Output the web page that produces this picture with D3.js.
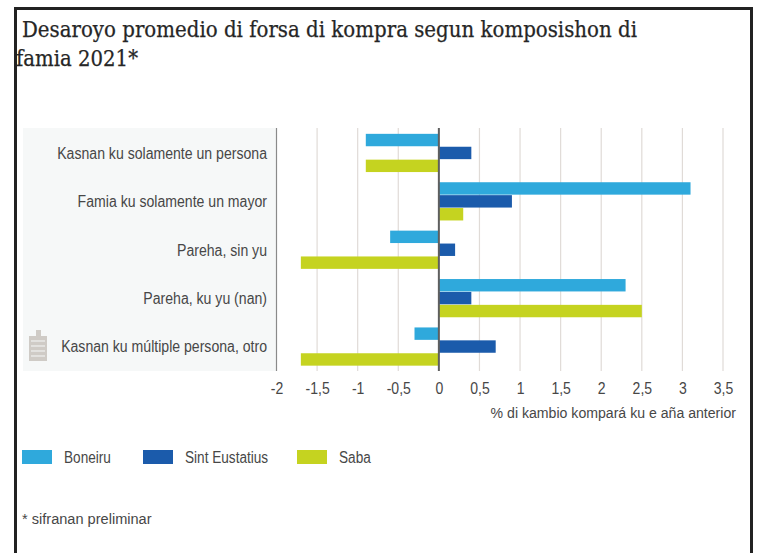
<!DOCTYPE html>
<html>
<head>
<meta charset="utf-8">
<script src="https://cdn.jsdelivr.net/npm/d3@7"></script>
<style>
  html, body { margin: 0; padding: 0; background: #fff; }
  svg { display: block; }
  text { font-family: "Liberation Sans", sans-serif; fill: #474747; }
  .title { font-family: "DejaVu Serif", serif; fill: #262626; font-size: 22px; stroke: #262626; stroke-width: 0.25px; }
</style>
</head>
<body>
<div id="chart"></div>
<script>
const categories = [
  'Kasnan ku solamente un persona',
  'Famia ku solamente un mayor',
  'Pareha, sin yu',
  'Pareha, ku yu (nan)',
  'Kasnan ku múltiple persona, otro'
];
const seriesNames = ['Boneiru', 'Sint Eustatius', 'Saba'];
const boneiru = [-0.9, 3.1, -0.6, 2.3, -0.3];
const sintEustatius = [0.4, 0.9, 0.2, 0.4, 0.7];
const saba = [-0.9, 0.3, -1.7, 2.5, -1.7];
const tickValues = [-2, -1.5, -1, -0.5, 0, 0.5, 1, 1.5, 2, 2.5, 3, 3.5];
const colors = ['#2fa9dc', '#1b5bab', '#c5d320'];

const width = 772, height = 553;
const svg = d3.select('#chart').append('svg')
  .attr('width', width)
  .attr('height', height);

// the condensed face of the original is not installed, so squeeze the glyphs
function squeeze(selection, factor) {
  selection.each(function() {
    d3.select(this)
      .attr('textLength', this.getComputedTextLength() * factor)
      .attr('lengthAdjust', 'spacingAndGlyphs');
  });
}

// frame, open at the bottom
svg.append('path')
  .attr('d', 'M15.5,553V8.5H751.5V553')
  .attr('fill', 'none')
  .attr('stroke', '#222')
  .attr('stroke-width', 3);

svg.append('text').attr('class', 'title').attr('x', 22).attr('y', 37)
  .text('Desaroyo promedio di forsa di kompra segun komposishon di')
  .attr('textLength', 615).attr('lengthAdjust', 'spacingAndGlyphs');
svg.append('text').attr('class', 'title').attr('x', 16).attr('y', 66)
  .text('famia 2021*')
  .attr('textLength', 122).attr('lengthAdjust', 'spacingAndGlyphs');

const x = d3.scaleLinear().domain([-2, 3.5]).range([276.5, 723]);
const y = d3.scaleBand().domain(categories).range([129, 371]).paddingInner(0.2).paddingOuter(0.1);
const inner = d3.scaleBand().domain(seriesNames).range([0, y.bandwidth()]);

// label panel
svg.append('rect')
  .attr('x', 23).attr('y', 128)
  .attr('width', x(-2) - 23).attr('height', 243)
  .attr('fill', '#f6f8f8');

// grid
svg.append('g').selectAll('line')
  .data(tickValues)
  .join('line')
  .attr('x1', d => x(d)).attr('x2', d => x(d))
  .attr('y1', 128).attr('y2', 371)
  .attr('stroke', d => d === -2 ? '#8a8a8a' : '#e0dbd7')
  .attr('stroke-width', 1.2);

// bars
const values = [boneiru, sintEustatius, saba];
const groups = svg.append('g').selectAll('g')
  .data(seriesNames)
  .join('g')
  .attr('fill', (d, i) => colors[i]);
groups.selectAll('rect')
  .data((d, i) => categories.map((c, j) => ({ cat: c, name: d, value: values[i][j] })))
  .join('rect')
  .attr('x', d => Math.min(x(0), x(d.value)))
  .attr('y', d => y(d.cat) + inner(d.name))
  .attr('width', d => Math.abs(x(d.value) - x(0)))
  .attr('height', inner.bandwidth() - 0.5);

// zero line
svg.append('line')
  .attr('x1', x(0)).attr('x2', x(0))
  .attr('y1', 128).attr('y2', 371)
  .attr('stroke', '#5f5f5f')
  .attr('stroke-width', 2);

// category labels
svg.append('g').selectAll('text')
  .data(categories)
  .join('text')
  .attr('x', 267)
  .attr('y', d => y(d) + y.bandwidth() / 2)
  .attr('dy', '0.35em')
  .attr('text-anchor', 'end')
  .attr('font-size', 16)
  .text(d => d)
  .call(squeeze, 0.88);

// x axis
const axis = d3.axisBottom(x)
  .tickValues(tickValues)
  .tickSize(0)
  .tickPadding(0)
  .tickFormat(d => String(d).replace('.', ','));
const axisG = svg.append('g')
  .attr('transform', 'translate(0,382)')
  .call(axis);
axisG.select('.domain').remove();
axisG.selectAll('text').attr('font-size', 16.5).call(squeeze, 0.85);

svg.append('text')
  .attr('x', 736).attr('y', 418)
  .attr('text-anchor', 'end')
  .attr('font-size', 15.5)
  .text('% di kambio kompará ku e aña anterior')
  .call(squeeze, 0.91);

// legend
const legendX = [22, 143, 297];
const legend = svg.append('g').selectAll('g')
  .data(seriesNames)
  .join('g')
  .attr('transform', (d, i) => `translate(${legendX[i]},450)`);
legend.append('rect')
  .attr('width', 30).attr('height', 14)
  .attr('fill', (d, i) => colors[i]);
legend.append('text')
  .attr('x', 42).attr('y', 13)
  .attr('font-size', 16)
  .text(d => d)
  .call(squeeze, 0.85);

svg.append('text')
  .attr('x', 22).attr('y', 524)
  .attr('font-size', 15.5)
  .text('* sifranan preliminar')
  .call(squeeze, 0.94);

// little building icon in the panel
const icon = svg.append('g').attr('fill', '#cfcbc6');
icon.append('rect').attr('x', 29).attr('y', 336).attr('width', 18).attr('height', 25);
icon.append('rect').attr('x', 36).attr('y', 330).attr('width', 5).attr('height', 7);
svg.append('g').selectAll('line')
  .data([341, 346, 351, 356])
  .join('line')
  .attr('x1', 31).attr('x2', 45)
  .attr('y1', d => d).attr('y2', d => d)
  .attr('stroke', '#f6f8f8');
</script>
</body>
</html>
